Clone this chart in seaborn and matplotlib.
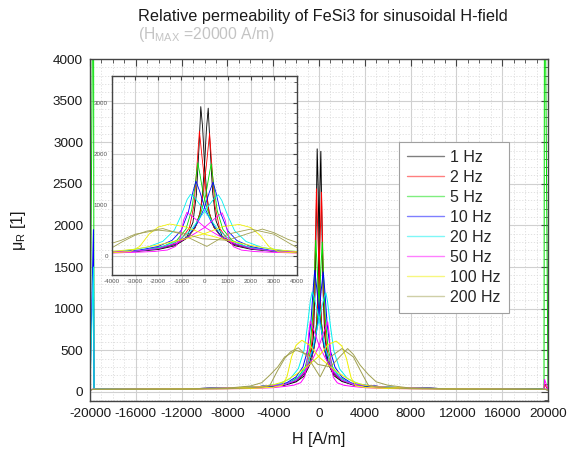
import matplotlib
matplotlib.use("Agg")
import matplotlib.pyplot as plt
from matplotlib.lines import Line2D
from matplotlib.ticker import MultipleLocator
import pandas as pd
import seaborn as sns

# Excitation frequencies and line colours
freq_labels = ["1 Hz", "2 Hz", "5 Hz", "10 Hz", "20 Hz", "50 Hz", "100 Hz", "200 Hz"]
line_colors = ["#000000", "#ff0000", "#00e000", "#0000ff", "#00f0f0",
               "#ff00ff", "#f0f000", "#a0a050"]

# Each frequency: H samples of the falling branch (A/m), mu_R on the falling
# branch, and mu_R on the rising branch (sampled at the mirrored H positions).
h1 = [20000, 19700, 19650, 12000, 6000, 3000, 2000, 1200, 700, 400, 200, 100, 0,
      -80, -160, -240, -350, -500, -800, -1300, -2000, -3000, -6000, -12000,
      -19650, -19700, -20000]
mu1_down = [25, 30, 30, 35, 55, 90, 140, 230, 380, 560, 850, 1200, 1800,
            2500, 2920, 2100, 1200, 650, 330, 190, 120, 80, 50, 35, 30, 30, 25]
mu1_up = [25, 30, 30, 35, 55, 88, 135, 225, 370, 550, 830, 1150, 1750,
          2450, 2890, 2150, 1250, 680, 340, 195, 125, 82, 52, 36, 30, 30, 28]

h2 = [20000, 19700, 19650, 12000, 6000, 3000, 2000, 1200, 700, 400, 200, 50,
      -100, -220, -320, -450, -650, -1000, -1500, -2200, -3200, -6000, -12000,
      -19650, -19700, -20000]
mu2_down = [25, 90, 30, 35, 55, 90, 140, 230, 380, 560, 850, 1300,
            1900, 2440, 1800, 1000, 550, 320, 200, 130, 85, 50, 35, 30, 30, 25]
mu2_up = [25, 30, 30, 35, 55, 88, 138, 228, 375, 550, 820, 1250,
          1850, 2400, 1750, 980, 540, 310, 195, 128, 84, 50, 35, 30, 30, 25]

h5 = [20000, 19700, 19650, 12000, 6000, 3000, 2000, 1200, 700, 400, 150, -50,
      -200, -290, -400, -550, -800, -1200, -1800, -2600, -3600, -6000, -12000,
      -19650, -19700, -20000]
mu5_down = [30, 6000, 40, 35, 55, 90, 140, 240, 390, 580, 870, 1200,
            1600, 1820, 1400, 900, 520, 300, 180, 110, 75, 50, 35, 30, 30, 25]
mu5_up = [30, 6000, 40, 35, 55, 88, 138, 235, 385, 570, 850, 1180,
          1580, 1800, 1380, 880, 510, 295, 178, 108, 74, 50, 35, 30, 30, 25]

h10 = [20000, 19700, 19650, 12000, 6000, 3000, 2000, 1200, 700, 300, 0, -200,
       -370, -500, -700, -1000, -1400, -2000, -2800, -4000, -6000, -12000,
       -19650, -19700, -20000]
mu10_down = [30, 30, 30, 35, 55, 90, 140, 240, 390, 650, 950, 1250,
             1460, 1250, 850, 500, 300, 180, 110, 70, 50, 35, 30, 30, 25]
mu10_up = [30, 1950, 35, 35, 55, 88, 138, 235, 385, 640, 940, 1230,
           1440, 1230, 830, 490, 295, 178, 108, 70, 50, 35, 30, 30, 25]

h20 = [20000, 19700, 19650, 12000, 6000, 3000, 2000, 1200, 600, 200, -200,
       -450, -600, -750, -1000, -1300, -1800, -2500, -3500, -5000, -8000,
       -12000, -19650, -19700, -20000]
mu20_down = [30, 30, 30, 35, 55, 90, 150, 280, 500, 750, 1000,
             1150, 1200, 1100, 800, 500, 280, 160, 95, 65, 45, 35, 30, 30, 25]
mu20_up = [30, 1500, 35, 35, 55, 88, 148, 275, 490, 740, 990,
           1140, 1190, 1080, 790, 490, 275, 158, 94, 64, 45, 35, 30, 30, 25]

h50 = [20000, 19700, 19650, 12000, 6000, 3000, 2000, 1200, 500, 0, -400,
       -760, -900, -1050, -1250, -1600, -2200, -3000, -4000, -6000, -12000,
       -19650, -19700, -20000]
mu50_down = [30, 150, 30, 35, 55, 90, 140, 250, 420, 560, 720,
             850, 700, 350, 180, 110, 80, 65, 50, 40, 32, 30, 30, 25]
mu50_up = [30, 30, 30, 35, 55, 88, 138, 245, 410, 550, 710,
           840, 690, 340, 175, 108, 78, 64, 50, 40, 32, 30, 30, 25]

h100 = [20000, 19700, 19650, 12000, 8000, 5000, 4000, 3000, 2000, 1000, 0,
        -800, -1500, -2000, -2400, -2800, -3200, -4000, -6000, -12000,
        -19650, -19700, -20000]
mu100_down = [25, 30, 30, 35, 45, 60, 80, 120, 200, 300, 420,
              560, 620, 560, 420, 180, 80, 55, 40, 32, 30, 30, 25]
mu100_up = [25, 30, 30, 35, 45, 62, 85, 125, 210, 310, 430,
            570, 610, 550, 400, 170, 75, 52, 40, 32, 30, 30, 25]

h200 = [20000, 19700, 19650, 12000, 8000, 6000, 5000, 4300, 3600, 3000, 2000,
        1000, 100, -1000, -1800, -2500, -3000, -3600, -4300, -5000, -6000,
        -8000, -12000, -19650, -19700, -20000]
mu200_down = [25, 30, 30, 32, 38, 50, 60, 80, 260, 420, 520,
              420, 180, 420, 530, 480, 400, 260, 75, 58, 48, 38, 32, 30, 30, 25]
mu200_up = [25, 30, 30, 35, 45, 70, 110, 200, 300, 420, 500,
            450, 330, 300, 420, 520, 450, 320, 210, 120, 80, 45, 35, 30, 30, 25]

series = {
    "1 Hz": (h1, mu1_down, mu1_up),
    "2 Hz": (h2, mu2_down, mu2_up),
    "5 Hz": (h5, mu5_down, mu5_up),
    "10 Hz": (h10, mu10_down, mu10_up),
    "20 Hz": (h20, mu20_down, mu20_up),
    "50 Hz": (h50, mu50_down, mu50_up),
    "100 Hz": (h100, mu100_down, mu100_up),
    "200 Hz": (h200, mu200_down, mu200_up),
}

rows = []
for label, (h, down, up) in series.items():
    for hv, mv in zip(h, down):
        rows.append((label, label + " falling", hv, mv))
    for hv, mv in zip(h, up):
        rows.append((label, label + " rising", -hv, mv))
df = pd.DataFrame(rows, columns=["freq", "branch", "H", "mu"])
palette = dict(zip(freq_labels, line_colors))

sns.set_style("white")
plt.rcParams["font.family"] = ["Liberation Sans", "DejaVu Sans"]
plt.rcParams["mathtext.fontset"] = "custom"
plt.rcParams["mathtext.rm"] = "Liberation Sans"
plt.rcParams["mathtext.default"] = "regular"
plt.rcParams["axes.unicode_minus"] = False

W, Hpx = 567, 453
fig = plt.figure(figsize=(W / 100, Hpx / 100), dpi=100)
fig.patch.set_facecolor("white")


def frac_box(left, top, right, bottom):
    return [left / W, 1 - bottom / Hpx, (right - left) / W, (bottom - top) / Hpx]


def style_axes(ax, major_len, minor_len, label_size, label_color, pad):
    ax.tick_params(which="both", direction="in", top=True, right=True,
                   colors="#444444", labelcolor=label_color, labelsize=label_size,
                   pad=pad)
    ax.tick_params(which="major", length=major_len, width=0.8)
    ax.tick_params(which="minor", length=minor_len, width=0.6)
    ax.grid(which="major", color="#d0d0d0", lw=0.8, ls="-")
    ax.grid(which="minor", color="#dcdcdc", lw=0.6, ls=(0, (1.5, 2)))
    ax.set_axisbelow(True)
    for sp in ax.spines.values():
        sp.set_color("#444444")
        sp.set_linewidth(1.0)
        sp.set_visible(True)


# Main axes
ax = fig.add_axes(frac_box(90, 59, 548, 401))
sns.lineplot(data=df, x="H", y="mu", hue="freq", units="branch", estimator=None,
             sort=False, palette=palette, hue_order=freq_labels, lw=0.7,
             legend=False, ax=ax)
ax.set_xlim(-20000, 20000)
ax.set_ylim(-110, 4000)
ax.xaxis.set_major_locator(MultipleLocator(4000))
ax.xaxis.set_minor_locator(MultipleLocator(1000))
ax.yaxis.set_major_locator(MultipleLocator(500))
ax.yaxis.set_minor_locator(MultipleLocator(100))
style_axes(ax, 5, 3, 9.7, "#1a1a1a", 5)
ax.set_xlabel("H [A/m]", fontsize=11.5, color="#1a1a1a", labelpad=9)
ax.set_ylabel(r"μ$_{R}$ [1]", fontsize=11.5, color="#1a1a1a", labelpad=18)

# Zoomed inset around the origin
axi = fig.add_axes(frac_box(112, 76, 297, 275))
axi.set_facecolor("white")
sns.lineplot(data=df, x="H", y="mu", hue="freq", units="branch", estimator=None,
             sort=False, palette=palette, hue_order=freq_labels, lw=0.6,
             legend=False, ax=axi)
axi.set_xlim(-4000, 4000)
axi.set_ylim(-380, 3520)
axi.xaxis.set_major_locator(MultipleLocator(1000))
axi.xaxis.set_minor_locator(MultipleLocator(500))
axi.yaxis.set_major_locator(MultipleLocator(1000))
axi.yaxis.set_minor_locator(MultipleLocator(200))
style_axes(axi, 3, 2, 4.5, "#555555", 3)
axi.set_xlabel("")
axi.set_ylabel("")

# Legend
handles = [Line2D([0], [0], color=c, lw=1.0, alpha=0.5) for c in line_colors]
leg = ax.legend(handles, freq_labels, loc="upper left",
                bbox_to_anchor=(399 / W, 1 - 142 / Hpx), bbox_transform=fig.transFigure,
                borderaxespad=0, frameon=True, fancybox=False, framealpha=1,
                edgecolor="#a0a0a0", fontsize=11.5, handlelength=2.3,
                handletextpad=0.4, labelspacing=0.31, borderpad=0.5)
leg.get_frame().set_linewidth(0.8)
leg.set_zorder(5)

# Titles
fig.text(138 / W, 1 - 17 / Hpx, "Relative permeability of FeSi3 for sinusoidal H-field",
         ha="left", va="center", fontsize=11.7, color="#1a1a1a")
fig.text(138 / W, 1 - 35 / Hpx, r"(H$_{MAX}$ =20000 A/m)",
         ha="left", va="center", fontsize=11.3, color="#c4c4c4")

fig.savefig("out.png", dpi=100, facecolor="white")
